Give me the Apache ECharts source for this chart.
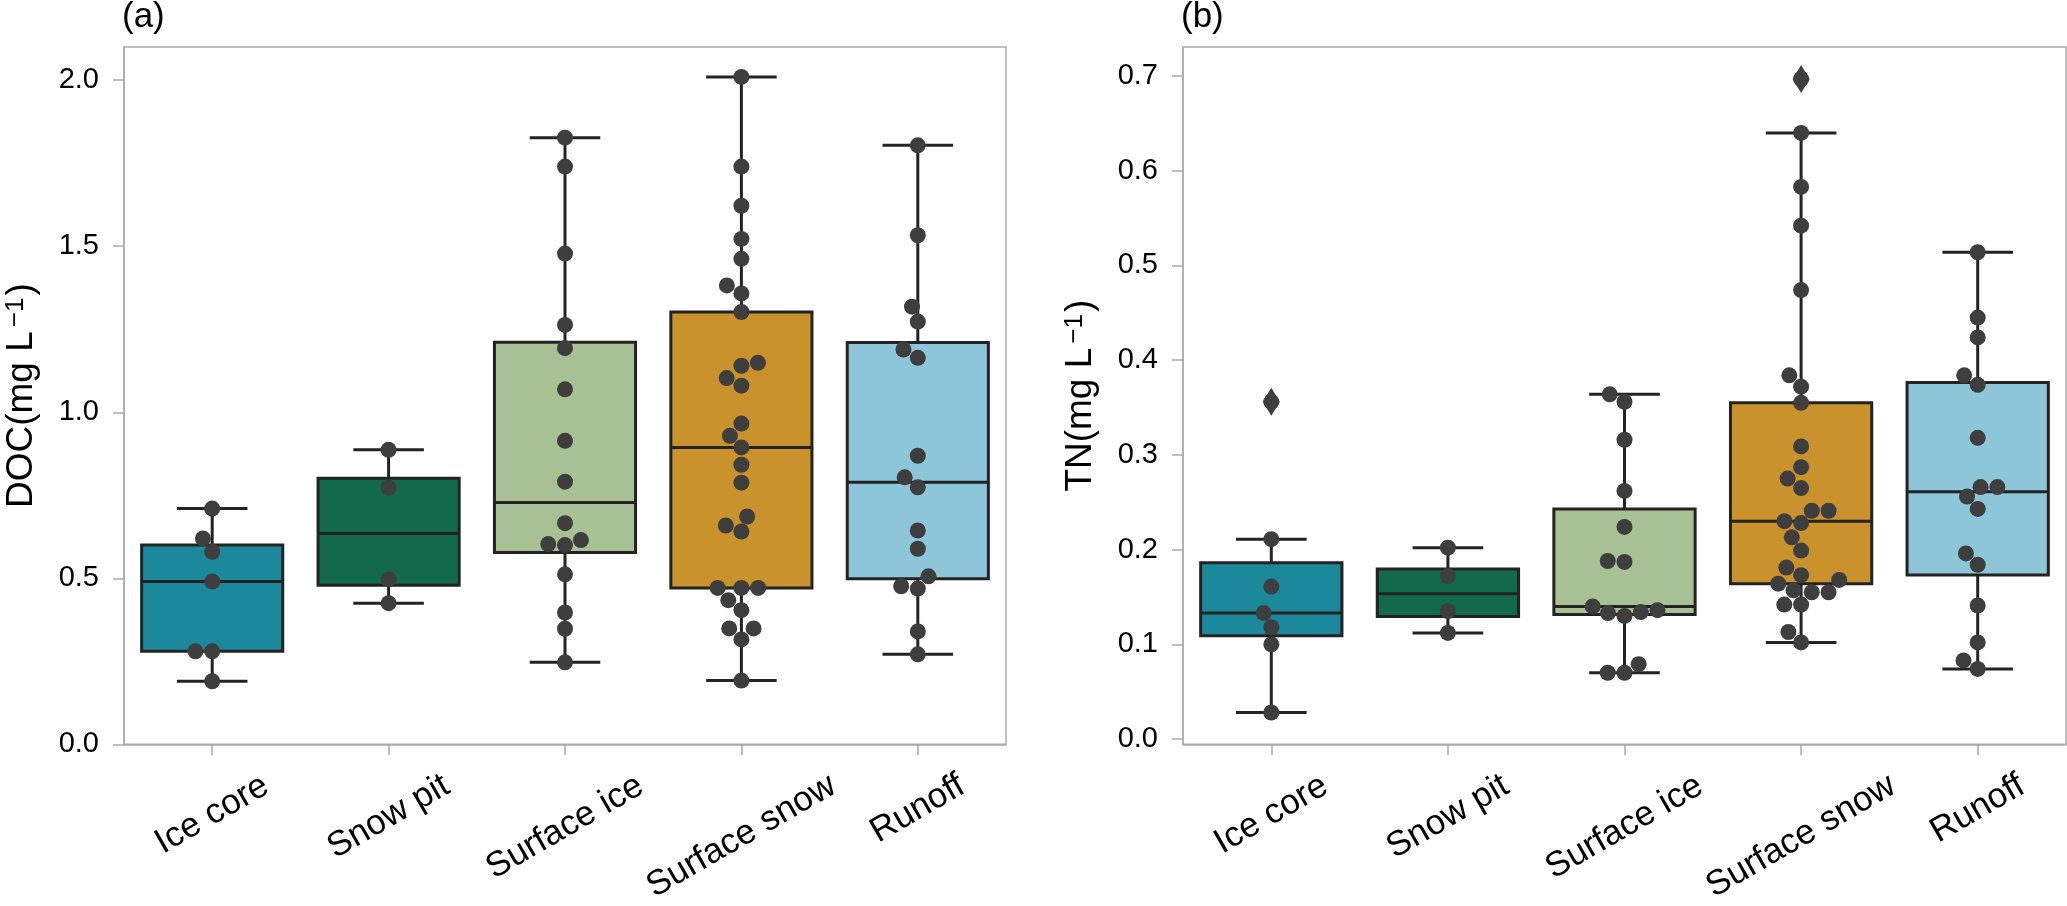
<!DOCTYPE html>
<html lang="en" style="height: 100%">

<head>
  <meta charset="UTF-8" />
  <title>DOC / TN box + swarm</title>
  <script src="https://cdn.jsdelivr.net/npm/echarts@6/dist/echarts.min.js"></script>
</head>

<body style="height: 100%; margin: 0; background: #fff">
  <div id="main" style="height: 100%"></div>
  <script type="text/javascript">
    // categories
    var categories = ['Ice core', 'Snow pit', 'Surface ice', 'Surface snow', 'Runoff'];

    // DOC (mg L-1)
    var docIceCore = [0.19, 0.28, 0.28, 0.49, 0.58, 0.62, 0.71];
    var docSnowPit = [0.425, 0.497, 0.773, 0.887];
    var docSurfaceIce = [0.247, 0.348, 0.397, 0.512, 0.600, 0.603, 0.615, 0.666, 0.791, 0.914, 1.069, 1.193, 1.263, 1.478, 1.740, 1.827];
    var docSurfaceSnow = [0.192, 0.316, 0.349, 0.349, 0.404, 0.434, 0.471, 0.471, 0.471, 0.641, 0.659, 0.686, 0.788, 0.842, 0.894, 0.929, 0.966, 1.080, 1.103, 1.140, 1.149, 1.302, 1.358, 1.382, 1.462, 1.522, 1.622, 1.740, 2.010];
    var docRunoff = [0.271, 0.340, 0.469, 0.476, 0.506, 0.589, 0.644, 0.774, 0.804, 0.869, 1.164, 1.189, 1.273, 1.318, 1.533, 1.804];

    // TN (mg L-1)
    var tnIceCore = [0.028, 0.100, 0.118, 0.133, 0.161, 0.211, 0.356];
    var tnSnowPit = [0.112, 0.135, 0.172, 0.202];
    var tnSurfaceIce = [0.070, 0.070, 0.079, 0.130, 0.133, 0.134, 0.136, 0.140, 0.187, 0.188, 0.224, 0.262, 0.316, 0.356, 0.364];
    var tnSurfaceSnow = [0.102, 0.113, 0.142, 0.142, 0.155, 0.155, 0.157, 0.164, 0.168, 0.173, 0.181, 0.199, 0.213, 0.228, 0.230, 0.241, 0.241, 0.265, 0.275, 0.287, 0.309, 0.355, 0.372, 0.384, 0.474, 0.542, 0.583, 0.640, 0.697];
    var tnRunoff = [0.074, 0.083, 0.102, 0.141, 0.184, 0.196, 0.243, 0.256, 0.266, 0.266, 0.318, 0.374, 0.384, 0.424, 0.445, 0.514];

    // tick labels
    var docTicks = [0, 0.5, 1.0, 1.5, 2.0];
    var tnTicks = [0, 0.1, 0.2, 0.3, 0.4, 0.5, 0.6, 0.7];

    var docGroups = [docIceCore, docSnowPit, docSurfaceIce, docSurfaceSnow, docRunoff];
    var tnGroups = [tnIceCore, tnSnowPit, tnSurfaceIce, tnSurfaceSnow, tnRunoff];

    var boxColors = ['#1b899b', '#12694c', '#a8c194', '#c9922c', '#8dc6d8'];
    var edge = '#232323';
    var dotColor = '#3e3e3e';
    var axisGrey = '#ababab';
    var font = 'Liberation Sans, Arial, sans-serif';

    // layout of the two panels (px)
    var gridA = { left: 124, top: 47, width: 882, height: 701 };
    var gridB = { left: 1183, top: 47, width: 883, height: 701 };
    var docRange = [0, 2.1];
    var tnRange = [-0.0056, 0.7307];
    var dotD = 16;
    var xFont = 35;

    function quantile(s, p) {
      var pos = (s.length - 1) * p;
      var lo = Math.floor(pos), hi = Math.ceil(pos);
      return s[lo] + (s[hi] - s[lo]) * (pos - lo);
    }

    // box stats like matplotlib (whis = 1.5)
    function boxStats(vals) {
      var s = vals.slice().sort(function (a, b) { return a - b; });
      var q1 = quantile(s, 0.25), med = quantile(s, 0.5), q3 = quantile(s, 0.75);
      var iqr = q3 - q1;
      var inside = s.filter(function (v) { return v >= q1 - 1.5 * iqr && v <= q3 + 1.5 * iqr; });
      var out = s.filter(function (v) { return v < q1 - 1.5 * iqr || v > q3 + 1.5 * iqr; });
      return { box: [inside[0], q1, med, q3, inside[inside.length - 1]], out: out };
    }

    // simple beeswarm (seaborn style), offsets returned in px
    function swarm(vals, pxPerUnit) {
      var order = vals.map(function (v, i) { return i; }).sort(function (a, b) { return vals[a] - vals[b]; });
      var placed = [];
      var res = new Array(vals.length);
      order.forEach(function (i) {
        var y = vals[i] * pxPerUnit;
        var nb = [];
        for (var k = placed.length - 1; k >= 0; k--) {
          if (Math.abs(placed[k].y - y) < dotD) nb.push(placed[k]);
        }
        var cands = [0];
        var leftFirst = true;
        nb.forEach(function (p) {
          var dx = Math.sqrt(Math.max(dotD * dotD - (p.y - y) * (p.y - y), 0)) * 1.05;
          if (leftFirst) cands.push(p.x - dx, p.x + dx);
          else cands.push(p.x + dx, p.x - dx);
          leftFirst = !leftFirst;
        });
        var sorted = cands.map(function (c, j) { return [c, j]; }).sort(function (a, b) {
          return (Math.abs(a[0]) - Math.abs(b[0])) || (a[1] - b[1]);
        });
        var x = 0;
        for (var c = 0; c < sorted.length; c++) {
          var cx = sorted[c][0];
          var ok = nb.every(function (p) { return (p.x - cx) * (p.x - cx) + (p.y - y) * (p.y - y) >= dotD * dotD * 0.99; });
          if (ok) { x = cx; break; }
        }
        placed.push({ x: x, y: y });
        res[i] = x;
      });
      return res;
    }

    function buildPanel(groups, grid, range) {
      var pxPerUnit = grid.height / (range[1] - range[0]);
      var catW = grid.width / categories.length;
      var boxes = [], outliers = [], dots = [];
      groups.forEach(function (vals, gi) {
        var st = boxStats(vals);
        boxes.push([gi].concat(st.box));
        st.out.forEach(function (v) { outliers.push([gi, v]); });
        var offs = swarm(vals, pxPerUnit);
        vals.forEach(function (v, k) { dots.push([gi + offs[k] / catW, v]); });
      });
      return { boxes: boxes, outliers: outliers, dots: dots };
    }

    var panelA = buildPanel(docGroups, gridA, docRange);
    var panelB = buildPanel(tnGroups, gridB, tnRange);

    // x labels: centred under the tick like matplotlib (rotated bbox top-aligned),
    // longer labels pushed down with padding in the text's own frame
    var measure = document.createElement('canvas').getContext('2d');
    measure.font = xFont + 'px ' + font;
    var xRich = {};
    categories.forEach(function (c, i) {
      var d = measure.measureText(c).width / 4;
      xRich['p' + i] = {
        fontSize: xFont, fontFamily: font, color: '#000',
        padding: [1.732 * d, d, 0, 0]
      };
    });

    function renderBox(params, api) {
      var i = api.value(0);
      var lo = api.coord([i, api.value(1)]);
      var q1 = api.coord([i, api.value(2)]);
      var med = api.coord([i, api.value(3)]);
      var q3 = api.coord([i, api.value(4)]);
      var hi = api.coord([i, api.value(5)]);
      var bw = api.size([1, 0])[0] * 0.8;
      var cx = lo[0];
      var cap = bw / 4;
      var ls = { stroke: edge, lineWidth: 3 };
      return {
        type: 'group',
        children: [
          { type: 'line', shape: { x1: cx, y1: q3[1], x2: cx, y2: hi[1] }, style: ls },
          { type: 'line', shape: { x1: cx, y1: q1[1], x2: cx, y2: lo[1] }, style: ls },
          { type: 'line', shape: { x1: cx - cap, y1: hi[1], x2: cx + cap, y2: hi[1] }, style: ls },
          { type: 'line', shape: { x1: cx - cap, y1: lo[1], x2: cx + cap, y2: lo[1] }, style: ls },
          { type: 'rect', shape: { x: cx - bw / 2, y: q3[1], width: bw, height: q1[1] - q3[1] }, style: { fill: boxColors[i], stroke: edge, lineWidth: 3 } },
          { type: 'line', shape: { x1: cx - bw / 2, y1: med[1], x2: cx + bw / 2, y2: med[1] }, style: ls }
        ]
      };
    }

    function catAxis(gi) {
      return {
        type: 'category', gridIndex: gi, data: categories,
        axisLine: { show: true, onZero: false, lineStyle: { color: axisGrey, width: 1.5 } },
        axisTick: { show: true, alignWithLabel: true, length: 11, lineStyle: { color: axisGrey, width: 1.5 } },
        axisLabel: {
          interval: 0, rotate: 30, align: 'center', verticalAlign: 'middle', margin: 39,
          fontSize: xFont, color: '#000', fontFamily: font, hideOverlap: false,
          formatter: function (v, i) { return '{p' + i + '|' + v + '}'; },
          rich: xRich
        },
        splitLine: { show: false }
      };
    }

    function valAxis(gi, range, ticks, nameText) {
      return {
        type: 'value', gridIndex: gi, min: range[0], max: range[1],
        name: nameText, nameLocation: 'middle', nameRotate: 90, nameGap: 84,
        nameTextStyle: {
          fontSize: 37, color: '#000', fontFamily: font,
          rich: { sup: { fontSize: 26, color: '#000', fontFamily: font, verticalAlign: 'top', padding: [0, 2, 0, 4] } }
        },
        axisLine: { show: true, onZero: false, lineStyle: { color: axisGrey, width: 1.5 } },
        axisTick: { show: true, length: 11, customValues: ticks, lineStyle: { color: axisGrey, width: 1.5 } },
        axisLabel: {
          customValues: ticks, margin: 25, fontSize: 29, color: '#000', fontFamily: font,
          formatter: function (v) { return v.toFixed(1); }
        },
        splitLine: { show: false }
      };
    }

    function hiddenX(gi) {
      return {
        type: 'value', gridIndex: gi, min: -0.5, max: categories.length - 0.5, show: false,
        axisLine: { show: false }, axisTick: { show: false }, axisLabel: { show: false },
        splitLine: { show: false }
      };
    }

    function panelSeries(p, gi) {
      return [
        { type: 'custom', xAxisIndex: gi * 2, yAxisIndex: gi, renderItem: renderBox, data: p.boxes, z: 2 },
        {
          type: 'scatter', xAxisIndex: gi * 2, yAxisIndex: gi, symbol: 'diamond', symbolSize: [17, 28],
          itemStyle: { color: dotColor, opacity: 1 }, data: p.outliers, z: 3
        },
        {
          type: 'scatter', xAxisIndex: gi * 2 + 1, yAxisIndex: gi, symbol: 'circle', symbolSize: dotD,
          itemStyle: { color: dotColor, opacity: 1 }, data: p.dots, z: 4
        }
      ];
    }

    var myChart = echarts.init(document.getElementById('main'));

    var option = {
      animation: false,
      backgroundColor: '#fff',
      title: [
        { text: '(a)', left: 122, top: 0, padding: 0, textStyle: { fontSize: 35, fontWeight: 'normal', color: '#000', fontFamily: font } },
        { text: '(b)', left: 1181, top: 0, padding: 0, textStyle: { fontSize: 35, fontWeight: 'normal', color: '#000', fontFamily: font } }
      ],
      grid: [
        Object.assign({ show: true, borderColor: axisGrey, borderWidth: 1.5, containLabel: false }, gridA),
        Object.assign({ show: true, borderColor: axisGrey, borderWidth: 1.5, containLabel: false }, gridB)
      ],
      xAxis: [catAxis(0), hiddenX(0), catAxis(1), hiddenX(1)],
      yAxis: [
        valAxis(0, docRange, docTicks, 'DOC(mg L{sup|\u22121})'),
        valAxis(1, tnRange, tnTicks, 'TN(mg L{sup|\u22121})')
      ],
      series: panelSeries(panelA, 0).concat(panelSeries(panelB, 1))
    };

    myChart.setOption(option);
    window.addEventListener('resize', myChart.resize);
  </script>
</body>

</html>
